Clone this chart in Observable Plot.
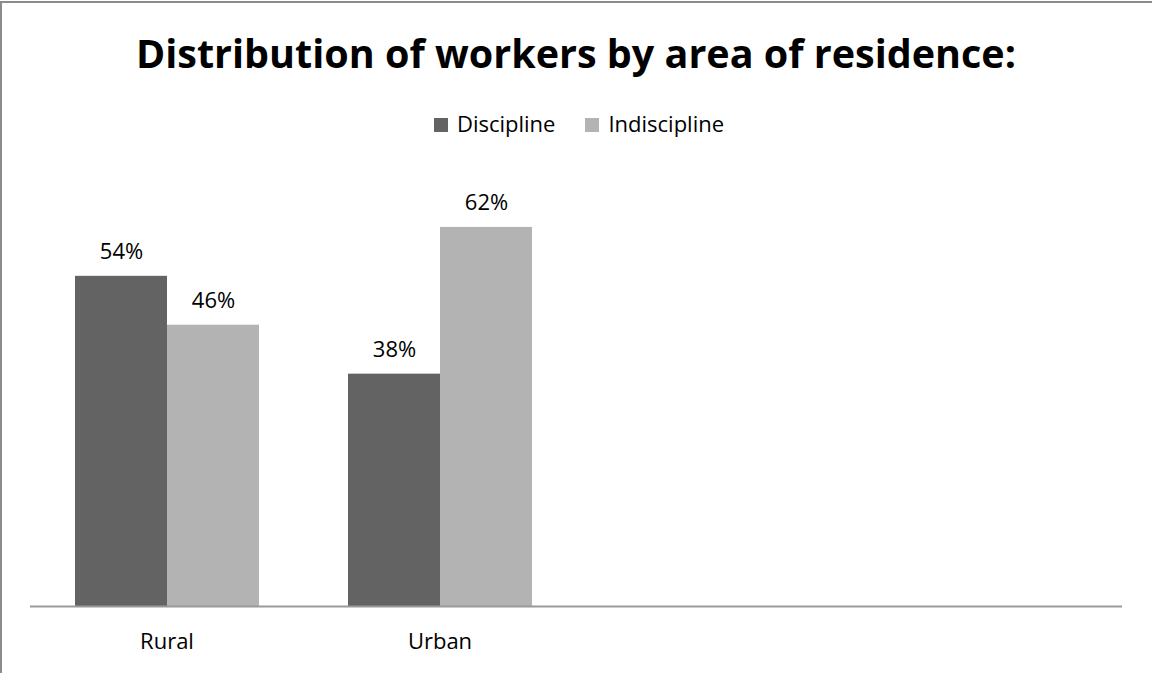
<!DOCTYPE html>
<html>
<head>
<meta charset="utf-8">
<script src="https://cdn.jsdelivr.net/npm/d3@7"></script>
<script src="https://cdn.jsdelivr.net/npm/@observablehq/plot@0.6"></script>
<style>
  html, body { margin: 0; padding: 0; background: #fff; }
  #chart { position: relative; width: 1152px; height: 673px; overflow: hidden; font-family: "Open Sans", sans-serif; color: #000; }
  #border-top { position: absolute; left: 0; top: 1px; width: 1152px; height: 2px; background: #8c8c8c; }
  #border-left { position: absolute; left: 0; top: 1px; width: 2px; height: 672px; background: #8c8c8c; }
  #title { box-sizing: border-box; height: 90px; padding-top: 26px; text-align: center; white-space: nowrap;
           font-family: "Open Sans", sans-serif; font-weight: 700; font-size: 39.5px; line-height: normal; }
  #title span { display: inline-block; }
  #legend { box-sizing: border-box; height: 60px; padding-top: 18px; padding-left: 6px; text-align: center; white-space: nowrap;
            font-size: 22px; line-height: normal; }
  .item { display: inline-block; margin: 0 15px; }
  .sw { display: inline-block; width: 14px; height: 14px; margin-right: 9px; vertical-align: baseline; }
  #plot svg { display: block; }
</style>
</head>
<body>
<div id="chart">
  <div id="title"><span>Distribution of workers by area of residence:</span></div>
  <div id="legend"></div>
  <div id="plot"></div>
  <div id="border-top"></div>
  <div id="border-left"></div>
</div>
<script>
// ---- Data ----
const categories = ["Rural", "Urban", " ", "  "];
const series = ["Discipline", "Indiscipline"];
const seriesColors = ["#636363", "#b3b3b3"];
const disciplineValues = [54, 38];
const indisciplineValues = [46, 62];

const rows = [];
["Rural", "Urban"].forEach((c, i) => {
  rows.push({area: c, series: series[0], value: disciplineValues[i]});
  rows.push({area: c, series: series[1], value: indisciplineValues[i]});
});

// ---- Legend ----
const legend = document.getElementById("legend");
series.forEach((s, i) => {
  const it = document.createElement("span");
  it.className = "item";
  const sw = document.createElement("span");
  sw.className = "sw";
  sw.style.background = seriesColors[i];
  it.appendChild(sw);
  it.appendChild(document.createTextNode(s));
  legend.appendChild(it);
});

// ---- Chart ----
const chart = Plot.plot({
  width: 1152,
  height: 523,
  marginLeft: 29,
  marginRight: 29,
  marginTop: 28,
  marginBottom: 67,
  style: {fontFamily: "Open Sans, sans-serif", fontSize: "22px", color: "#000", background: "transparent"},
  fx: {domain: categories, padding: 0, label: null, axis: null},
  x: {domain: series, paddingInner: 0, paddingOuter: 0.48, axis: null},
  y: {domain: [0, 70], axis: null},
  color: {domain: series, range: seriesColors},
  marks: [
    Plot.barY(rows, {fx: "area", x: "series", y: "value", fill: "series"}),
    Plot.text(rows, {fx: "area", x: "series", y: "value", text: d => d.value + "%", dy: -24, fontSize: 22, fill: "#000"}),
    Plot.ruleY([0], {stroke: "#999", strokeWidth: 2, facetAnchor: "bottom"}),
    Plot.axisFx({domain: categories, anchor: "bottom", tickSize: 0, tickPadding: 27, label: null, fontSize: 22,
                 tickFormat: d => d.trim()})
  ]
});
document.getElementById("plot").appendChild(chart);
</script>
</body>
</html>
